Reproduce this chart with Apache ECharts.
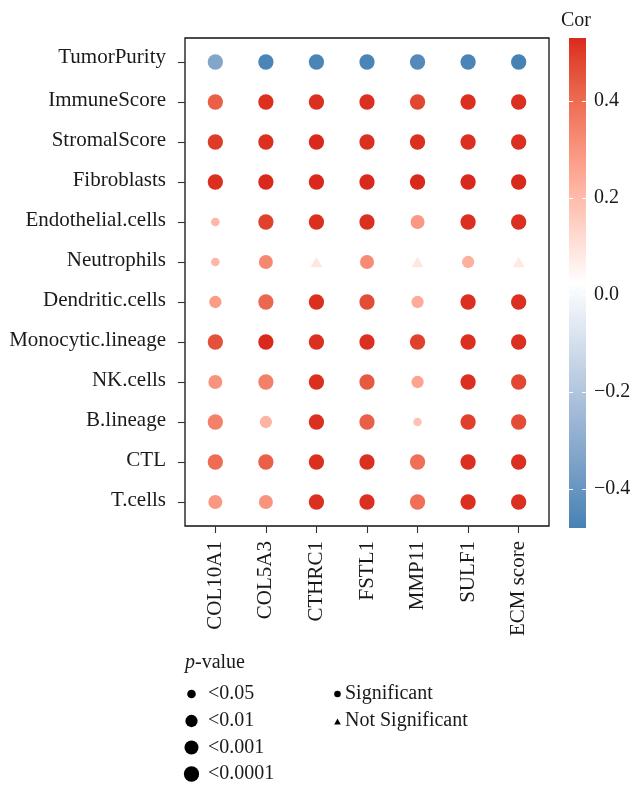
<!DOCTYPE html>
<html><head><meta charset="utf-8">
<script src="https://cdn.jsdelivr.net/npm/echarts@6/dist/echarts.min.js"></script>
<style>html,body{margin:0;padding:0;background:#fff}#c{width:634px;height:786px}</style>
</head><body><div id="c"></div><script>
// ---------- data ----------
const rows = ['TumorPurity','ImmuneScore','StromalScore','Fibroblasts','Endothelial.cells','Neutrophils',
  'Dendritic.cells','Monocytic.lineage','NK.cells','B.lineage','CTL','T.cells'];
const cols = ['COL10A1','COL5A3','CTHRC1','FSTL1','MMP11','SULF1','ECM score'];
// correlation per row (columns in the order of cols)
const corByRow = [
  [-0.33,-0.47,-0.47,-0.47,-0.45,-0.47,-0.48],
  [0.43,0.52,0.52,0.52,0.48,0.52,0.52],
  [0.50,0.52,0.53,0.52,0.52,0.52,0.52],
  [0.52,0.53,0.53,0.53,0.53,0.53,0.53],
  [0.21,0.49,0.52,0.52,0.29,0.52,0.52],
  [0.21,0.33,0.09,0.32,0.09,0.23,0.08],
  [0.28,0.41,0.52,0.47,0.24,0.52,0.52],
  [0.46,0.53,0.52,0.52,0.49,0.52,0.52],
  [0.30,0.35,0.52,0.44,0.26,0.52,0.48],
  [0.35,0.22,0.52,0.43,0.18,0.49,0.47],
  [0.40,0.43,0.52,0.52,0.39,0.52,0.52],
  [0.29,0.30,0.52,0.52,0.39,0.52,0.52]
];
// p-value class: 0 '<0.05', 1 '<0.01', 2 '<0.001', 3 '<0.0001', -1 not significant
const pByRow = [
  [3,3,3,3,3,3,3],
  [3,3,3,3,3,3,3],
  [3,3,3,3,3,3,3],
  [3,3,3,3,3,3,3],
  [0,3,3,3,2,3,3],
  [0,2,-1,2,-1,1,-1],
  [1,3,3,3,1,3,3],
  [3,3,3,3,3,3,3],
  [2,3,3,3,1,3,3],
  [3,1,3,3,0,3,3],
  [3,3,3,3,3,3,3],
  [2,2,3,3,3,3,3]
];
const pLabels = ['<0.05','<0.01','<0.001','<0.0001'];
const sigLabels = ['Significant','Not Significant'];
const colorbarTicks = [-0.4,-0.2,0,0.2,0.4];

// ---------- styles ----------
const FONT = "'Liberation Serif','Times New Roman',serif";
const TXT = '#1a1a1a';
const FS = 20;
const AFS = 21;
const pointSize = [8.6, 12.3, 14, 15.3];
const triSize = [12, 10.5];

// Lab interpolated palette (blue - white - red)
function hex2rgb(h){h=h.replace('#','');return [0,2,4].map(i=>parseInt(h.substr(i,2),16)/255);}
function lin(c){return c<=0.04045?c/12.92:Math.pow((c+0.055)/1.055,2.4);}
function gam(c){return c<=0.0031308?12.92*c:1.055*Math.pow(c,1/2.4)-0.055;}
function rgb2lab(rgb){
  const [r,g,b]=rgb.map(lin);
  let X=(0.4124*r+0.3576*g+0.1805*b)/0.95047, Y=0.2126*r+0.7152*g+0.0722*b, Z=(0.0193*r+0.1192*g+0.9505*b)/1.08883;
  const f=t=>t>0.008856?Math.cbrt(t):7.787*t+16/116;
  const fx=f(X),fy=f(Y),fz=f(Z);
  return [116*fy-16,500*(fx-fy),200*(fy-fz)];
}
function lab2hex(lab){
  const fy=(lab[0]+16)/116, fx=fy+lab[1]/500, fz=fy-lab[2]/200;
  const fi=t=>t>0.206893?t*t*t:(t-16/116)/7.787;
  const X=fi(fx)*0.95047,Y=fi(fy),Z=fi(fz)*1.08883;
  let r=3.2406*X-1.5372*Y-0.4986*Z, g=-0.9689*X+1.8758*Y+0.0415*Z, b=0.0557*X-0.2040*Y+1.0570*Z;
  return '#'+[r,g,b].map(c=>{let v=Math.round(Math.max(0,Math.min(1,gam(c)))*255);return v.toString(16).padStart(2,'0');}).join('');
}
function palette(cols3,n){
  const labs=cols3.map(c=>rgb2lab(hex2rgb(c)));const out=[];
  for(let i=0;i<=n;i++){const t=i/n;const seg=t<0.5?0:1;const u=t<0.5?t*2:(t-0.5)*2;
    const a=labs[seg],b=labs[seg+1];out.push(lab2hex([0,1,2].map(k=>a[k]+(b[k]-a[k])*u)));}
  return out;
}
const pal = palette(['#4682B4','#FFFFFF','#D9291C'], 40);

// ---------- derived ----------
const allCor = corByRow.flat();
const corMin = Math.min(...allCor), corMax = Math.max(...allCor);
const points = [];
rows.forEach((r,i)=>cols.forEach((c,j)=>points.push([j,i,corByRow[i][j],pByRow[i][j]])));

const chart = echarts.init(document.getElementById('c'));
const legendX = 191.5, legendLabelX = 208;
const legendYs = [694, 721, 747.5, 774];
const graphics = [
  {type:'text', x:185, y:663, style:{text:'{i|p}-value', font:FS+'px '+FONT, fill:TXT, verticalAlign:'middle',
    rich:{i:{fontStyle:'italic', fontSize:FS, fontFamily:FONT, fill:TXT}}}}
];
pLabels.forEach((lab,k)=>{
  graphics.push({type:'circle', shape:{cx:legendX, cy:legendYs[k], r:pointSize[k]/2}, style:{fill:'#000'}});
  graphics.push({type:'text', x:legendLabelX, y:legendYs[k], style:{text:lab, font:FS+'px '+FONT, fill:TXT, verticalAlign:'middle'}});
});
graphics.push({type:'circle', shape:{cx:337.5, cy:694, r:3.3}, style:{fill:'#000'}});
graphics.push({type:'polygon', shape:{points:[[334.2,724.5],[340.8,724.5],[337.5,718.5]]}, style:{fill:'#000'}});
graphics.push({type:'text', x:345, y:694, style:{text:sigLabels[0], font:FS+'px '+FONT, fill:TXT, verticalAlign:'middle'}});
graphics.push({type:'text', x:345, y:721, style:{text:sigLabels[1], font:FS+'px '+FONT, fill:TXT, verticalAlign:'middle'}});

const fmtTick = v => (v<0?'\u2212':'') + Math.abs(v).toFixed(1);

chart.setOption({
  backgroundColor:'#fff',
  animation:false,
  title:{text:'Cor', left:561, top:11, padding:0, textStyle:{fontFamily:FONT, fontSize:FS, fontWeight:'normal', color:TXT}},
  grid:[
    {left:185, top:38, width:364, height:488, show:true, borderColor:'#111', borderWidth:1.3, backgroundColor:'transparent'},
    {left:569, top:38, width:17, height:490, show:false}
  ],
  xAxis:[
    {type:'value', gridIndex:0, min:-0.6, max:6.6, splitLine:{show:false}, axisLine:{show:false, onZero:false},
     axisTick:{show:true, customValues:cols.map((c,i)=>i), length:7, lineStyle:{color:'#333', width:1.1}},
     axisLabel:{customValues:cols.map((c,i)=>i), formatter:v=>cols[Math.round(v)], rotate:90, margin:15,
       padding:[0,0,5,0], fontFamily:FONT, fontSize:AFS, color:TXT}},
    {type:'value', gridIndex:1, min:0, max:1, show:false}
  ],
  yAxis:[
    {type:'value', gridIndex:0, min:-0.6, max:11.6, inverse:true, splitLine:{show:false}, axisLine:{show:false, onZero:false},
     axisTick:{show:true, customValues:rows.map((r,i)=>i), length:7, lineStyle:{color:'#333', width:1.1}},
     axisLabel:{customValues:rows.map((r,i)=>i), formatter:v=>{const i=Math.round(v);return i===0?'{t|'+rows[i]+'}':'{n|'+rows[i]+'}';}, margin:19,
       fontFamily:FONT, fontSize:AFS, color:TXT,
       rich:{t:{fontFamily:FONT, fontSize:AFS, color:TXT, padding:[0,0,10,0]},
             n:{fontFamily:FONT, fontSize:AFS, color:TXT, padding:[0,0,3,0]}}}},
    {type:'value', gridIndex:1, position:'right', min:corMin, max:corMax, z:10, splitLine:{show:false}, axisLine:{show:false, onZero:false},
     axisTick:{show:true, inside:true, length:4, customValues:colorbarTicks, lineStyle:{color:'#fff', width:1}},
     axisLabel:{customValues:colorbarTicks, formatter:fmtTick, margin:8, fontFamily:FONT, fontSize:FS, color:TXT}},
    {type:'value', gridIndex:1, position:'left', min:corMin, max:corMax, z:10, splitLine:{show:false}, axisLine:{show:false, onZero:false},
     axisTick:{show:true, inside:true, length:4, customValues:colorbarTicks, lineStyle:{color:'#fff', width:1}},
     axisLabel:{show:false}}
  ],
  visualMap:{type:'continuous', show:false, seriesIndex:0, dimension:2, min:corMin, max:corMax, inRange:{color:pal}},
  series:[
    {type:'scatter', xAxisIndex:0, yAxisIndex:0, data:points,
     symbol:(v)=>v[3]<0?'triangle':'circle',
     symbolSize:(v)=>v[3]<0?triSize:pointSize[v[3]],
     itemStyle:{opacity:1}, z:3},
    {type:'custom', xAxisIndex:1, yAxisIndex:1, data:[[corMin, corMax]], silent:true, z:2,
     renderItem:function(params, api){
       const cs = params.coordSys;
       const top = api.coord([0, api.value(1)]);
       const bot = api.coord([0, api.value(0)]);
       const stops = pal.map((c,i)=>({offset:1 - i/(pal.length-1), color:c})).reverse();
       return {type:'rect', shape:{x:cs.x, y:top[1], width:cs.width, height:bot[1]-top[1]},
         style:{fill:new echarts.graphic.LinearGradient(0,0,0,1,stops)}};
     }}
  ],
  graphic:graphics
});
</script></body></html>
